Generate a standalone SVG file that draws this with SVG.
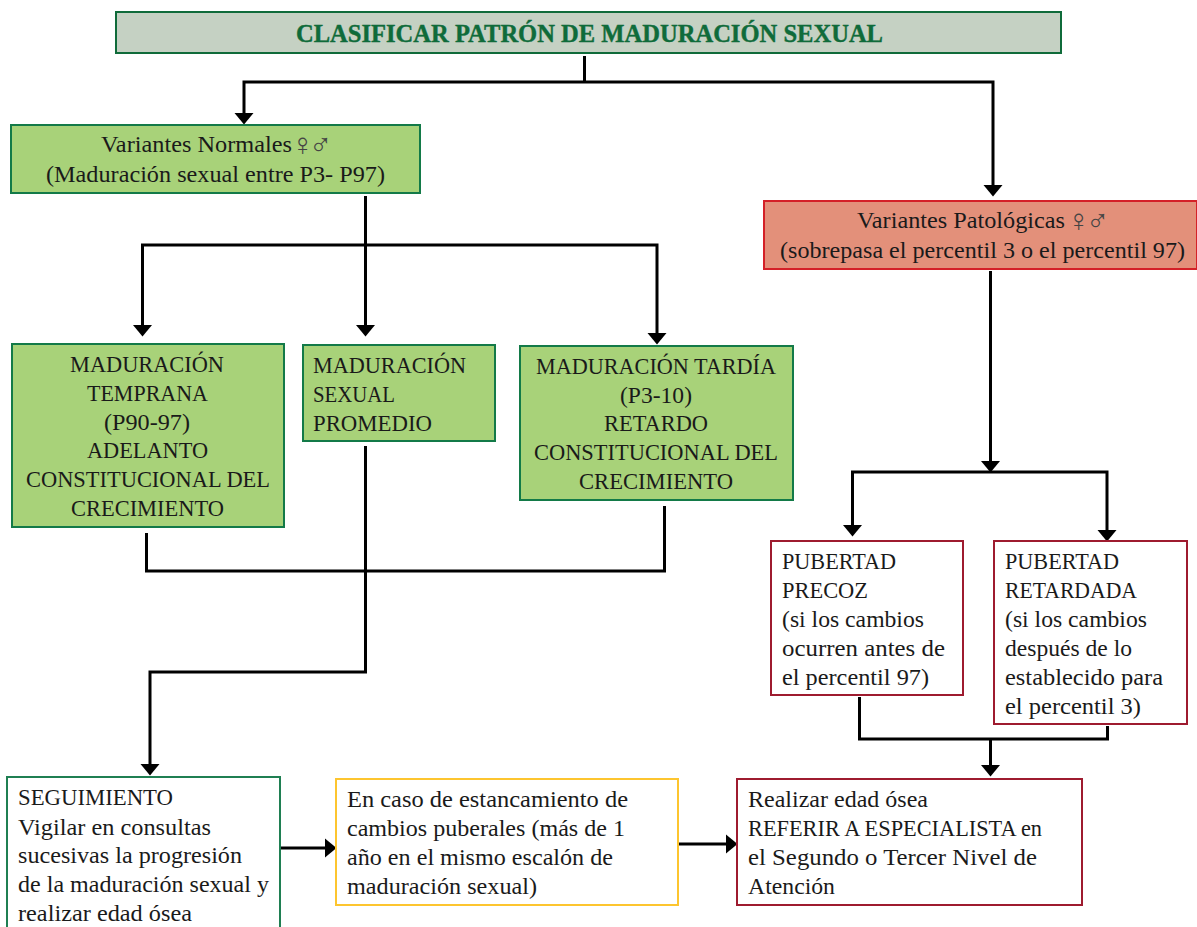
<svg xmlns="http://www.w3.org/2000/svg" width="1197" height="927" viewBox="0 0 1197 927">
<style>
text{font-family:"Liberation Serif","DejaVu Serif",serif;font-size:22.500px;fill:#1a1a1a}
.title{font-weight:700;font-size:26px;fill:#0f6b3a;stroke:#0f6b3a;stroke-width:.4}
.sym{font-family:"DejaVu Sans",sans-serif;font-weight:200;font-size:31px;fill:#444}
rect{stroke-width:2}
.g{fill:#a8d279;stroke:#137a48}
.w{fill:#fff;stroke:#1f7f52}
.r{fill:#fff;stroke:#9e1b2f}
.y{fill:#fff;stroke:#fdc52f}
.c{fill:none;stroke:#000;stroke-width:3}
.a{marker-end:url(#arr)}
</style>
<defs><marker id="arr" markerUnits="userSpaceOnUse" markerWidth="12" markerHeight="20" viewBox="0 0 12 20" refX="0" refY="10" orient="auto"><path d="M0 0.500L11.500 10L0 19.500Z" fill="#000"/></marker></defs>
<g id="connectors">
<path class="c" d="M584.500 56V82"/>
<path class="c a" d="M584 82H244V113"/>
<path class="c a" d="M584 82H993V185"/>
<path class="c a" d="M365.500 196V325"/>
<path class="c a" d="M365 245H142.500V325"/>
<path class="c a" d="M365 245H657V333"/>
<path class="c a" d="M990.500 271V461"/>
<path class="c a" d="M990 472H852.500V525"/>
<path class="c a" d="M990 472H1107V530"/>
<path class="c" d="M146.500 533V571H664.500V506"/>
<path class="c a" d="M365.500 446V672H150V764"/>
<path class="c" d="M859.500 697V739H1107.500V726"/>
<path class="c a" d="M990.500 739V765"/>
<path class="c a" d="M280 848H325"/>
<path class="c a" d="M678 844H726"/>
</g>
<g id="title"><rect x="116" y="12" width="945" height="41" fill="#c5d1c3" stroke="#0f6b3a"/><text class="title" x="296" y="42" textLength="587" lengthAdjust="spacingAndGlyphs">CLASIFICAR PATRÓN DE MADURACIÓN SEXUAL</text></g>
<g id="normales"><rect class="g" x="11" y="125" width="409" height="68"/>
<text x="101" y="152"><tspan textLength="191" lengthAdjust="spacingAndGlyphs">Variantes Normales</tspan><tspan class="sym" x="291 309" y="155">♀♂</tspan></text>
<text x="46" y="182" textLength="339" lengthAdjust="spacingAndGlyphs">(Maduración sexual entre P3- P97)</text></g>
<g id="patologicas"><rect x="764" y="201" width="433" height="68" fill="#e3907a" stroke="#d42027"/>
<text x="857" y="228"><tspan textLength="208" lengthAdjust="spacingAndGlyphs">Variantes Patológicas</tspan><tspan class="sym" x="1067 1086" y="231">♀♂</tspan></text>
<text x="780" y="258" textLength="405" lengthAdjust="spacingAndGlyphs">(sobrepasa el percentil 3 o el percentil 97)</text></g>
<g id="temprana"><rect class="g" x="12" y="344" width="272" height="183"/>
<text x="70" y="372" textLength="154" lengthAdjust="spacingAndGlyphs">MADURACIÓN</text>
<text x="87" y="401" textLength="121" lengthAdjust="spacingAndGlyphs">TEMPRANA</text>
<text x="104" y="430" textLength="86" lengthAdjust="spacingAndGlyphs">(P90-97)</text>
<text x="87" y="458" textLength="121" lengthAdjust="spacingAndGlyphs">ADELANTO</text>
<text x="26" y="487" textLength="244" lengthAdjust="spacingAndGlyphs">CONSTITUCIONAL DEL</text>
<text x="71" y="516" textLength="153" lengthAdjust="spacingAndGlyphs">CRECIMIENTO</text></g>
<g id="promedio"><rect class="g" x="303" y="345" width="192" height="96"/>
<text x="313" y="373" textLength="153" lengthAdjust="spacingAndGlyphs">MADURACIÓN</text>
<text x="313" y="402" textLength="82" lengthAdjust="spacingAndGlyphs">SEXUAL</text>
<text x="313" y="431" textLength="119" lengthAdjust="spacingAndGlyphs">PROMEDIO</text></g>
<g id="tardia"><rect class="g" x="520" y="346" width="273" height="154"/>
<text x="536" y="374" textLength="240" lengthAdjust="spacingAndGlyphs">MADURACIÓN TARDÍA</text>
<text x="620" y="403" textLength="72" lengthAdjust="spacingAndGlyphs">(P3-10)</text>
<text x="604" y="431" textLength="104" lengthAdjust="spacingAndGlyphs">RETARDO</text>
<text x="534" y="460" textLength="244" lengthAdjust="spacingAndGlyphs">CONSTITUCIONAL DEL</text>
<text x="579" y="489" textLength="154" lengthAdjust="spacingAndGlyphs">CRECIMIENTO</text></g>
<g id="precoz"><rect class="r" x="771" y="541" width="192" height="154"/>
<text x="782" y="569" textLength="114" lengthAdjust="spacingAndGlyphs">PUBERTAD</text>
<text x="782" y="598" textLength="86" lengthAdjust="spacingAndGlyphs">PRECOZ</text>
<text x="782" y="627" textLength="142" lengthAdjust="spacingAndGlyphs">(si los cambios</text>
<text x="782" y="656" textLength="163" lengthAdjust="spacingAndGlyphs">ocurren antes de</text>
<text x="782" y="685" textLength="147" lengthAdjust="spacingAndGlyphs">el percentil 97)</text></g>
<g id="retardada"><rect class="r" x="994" y="541" width="193" height="183"/>
<text x="1005" y="569" textLength="114" lengthAdjust="spacingAndGlyphs">PUBERTAD</text>
<text x="1005" y="598" textLength="132" lengthAdjust="spacingAndGlyphs">RETARDADA</text>
<text x="1005" y="627" textLength="142" lengthAdjust="spacingAndGlyphs">(si los cambios</text>
<text x="1005" y="656" textLength="127" lengthAdjust="spacingAndGlyphs">después de lo</text>
<text x="1005" y="685" textLength="158" lengthAdjust="spacingAndGlyphs">establecido para</text>
<text x="1005" y="714" textLength="136" lengthAdjust="spacingAndGlyphs">el percentil 3)</text></g>
<g id="seguimiento"><rect class="w" x="7" y="777" width="273" height="155"/>
<text x="18" y="805" textLength="155" lengthAdjust="spacingAndGlyphs">SEGUIMIENTO</text>
<text x="18" y="835" textLength="193" lengthAdjust="spacingAndGlyphs">Vigilar en consultas</text>
<text x="18" y="863" textLength="224" lengthAdjust="spacingAndGlyphs">sucesivas la progresión</text>
<text x="18" y="892" textLength="251" lengthAdjust="spacingAndGlyphs">de la maduración sexual y</text>
<text x="18" y="921" textLength="174" lengthAdjust="spacingAndGlyphs">realizar edad ósea</text></g>
<g id="estancamiento"><rect class="y" x="336" y="779" width="342" height="126"/>
<text x="347" y="807" textLength="281" lengthAdjust="spacingAndGlyphs">En caso de estancamiento de</text>
<text x="347" y="836" textLength="278" lengthAdjust="spacingAndGlyphs">cambios puberales (más de 1</text>
<text x="347" y="865" textLength="266" lengthAdjust="spacingAndGlyphs">año en el mismo escalón de</text>
<text x="347" y="894" textLength="190" lengthAdjust="spacingAndGlyphs">maduración sexual)</text></g>
<g id="referir"><rect class="r" x="737" y="779" width="345" height="126"/>
<text x="748" y="807" textLength="180" lengthAdjust="spacingAndGlyphs">Realizar edad ósea</text>
<text x="748" y="836" textLength="294" lengthAdjust="spacingAndGlyphs">REFERIR A ESPECIALISTA en</text>
<text x="748" y="865" textLength="289" lengthAdjust="spacingAndGlyphs">el Segundo o Tercer Nivel de</text>
<text x="748" y="894" textLength="87" lengthAdjust="spacingAndGlyphs">Atención</text></g>
</svg>
